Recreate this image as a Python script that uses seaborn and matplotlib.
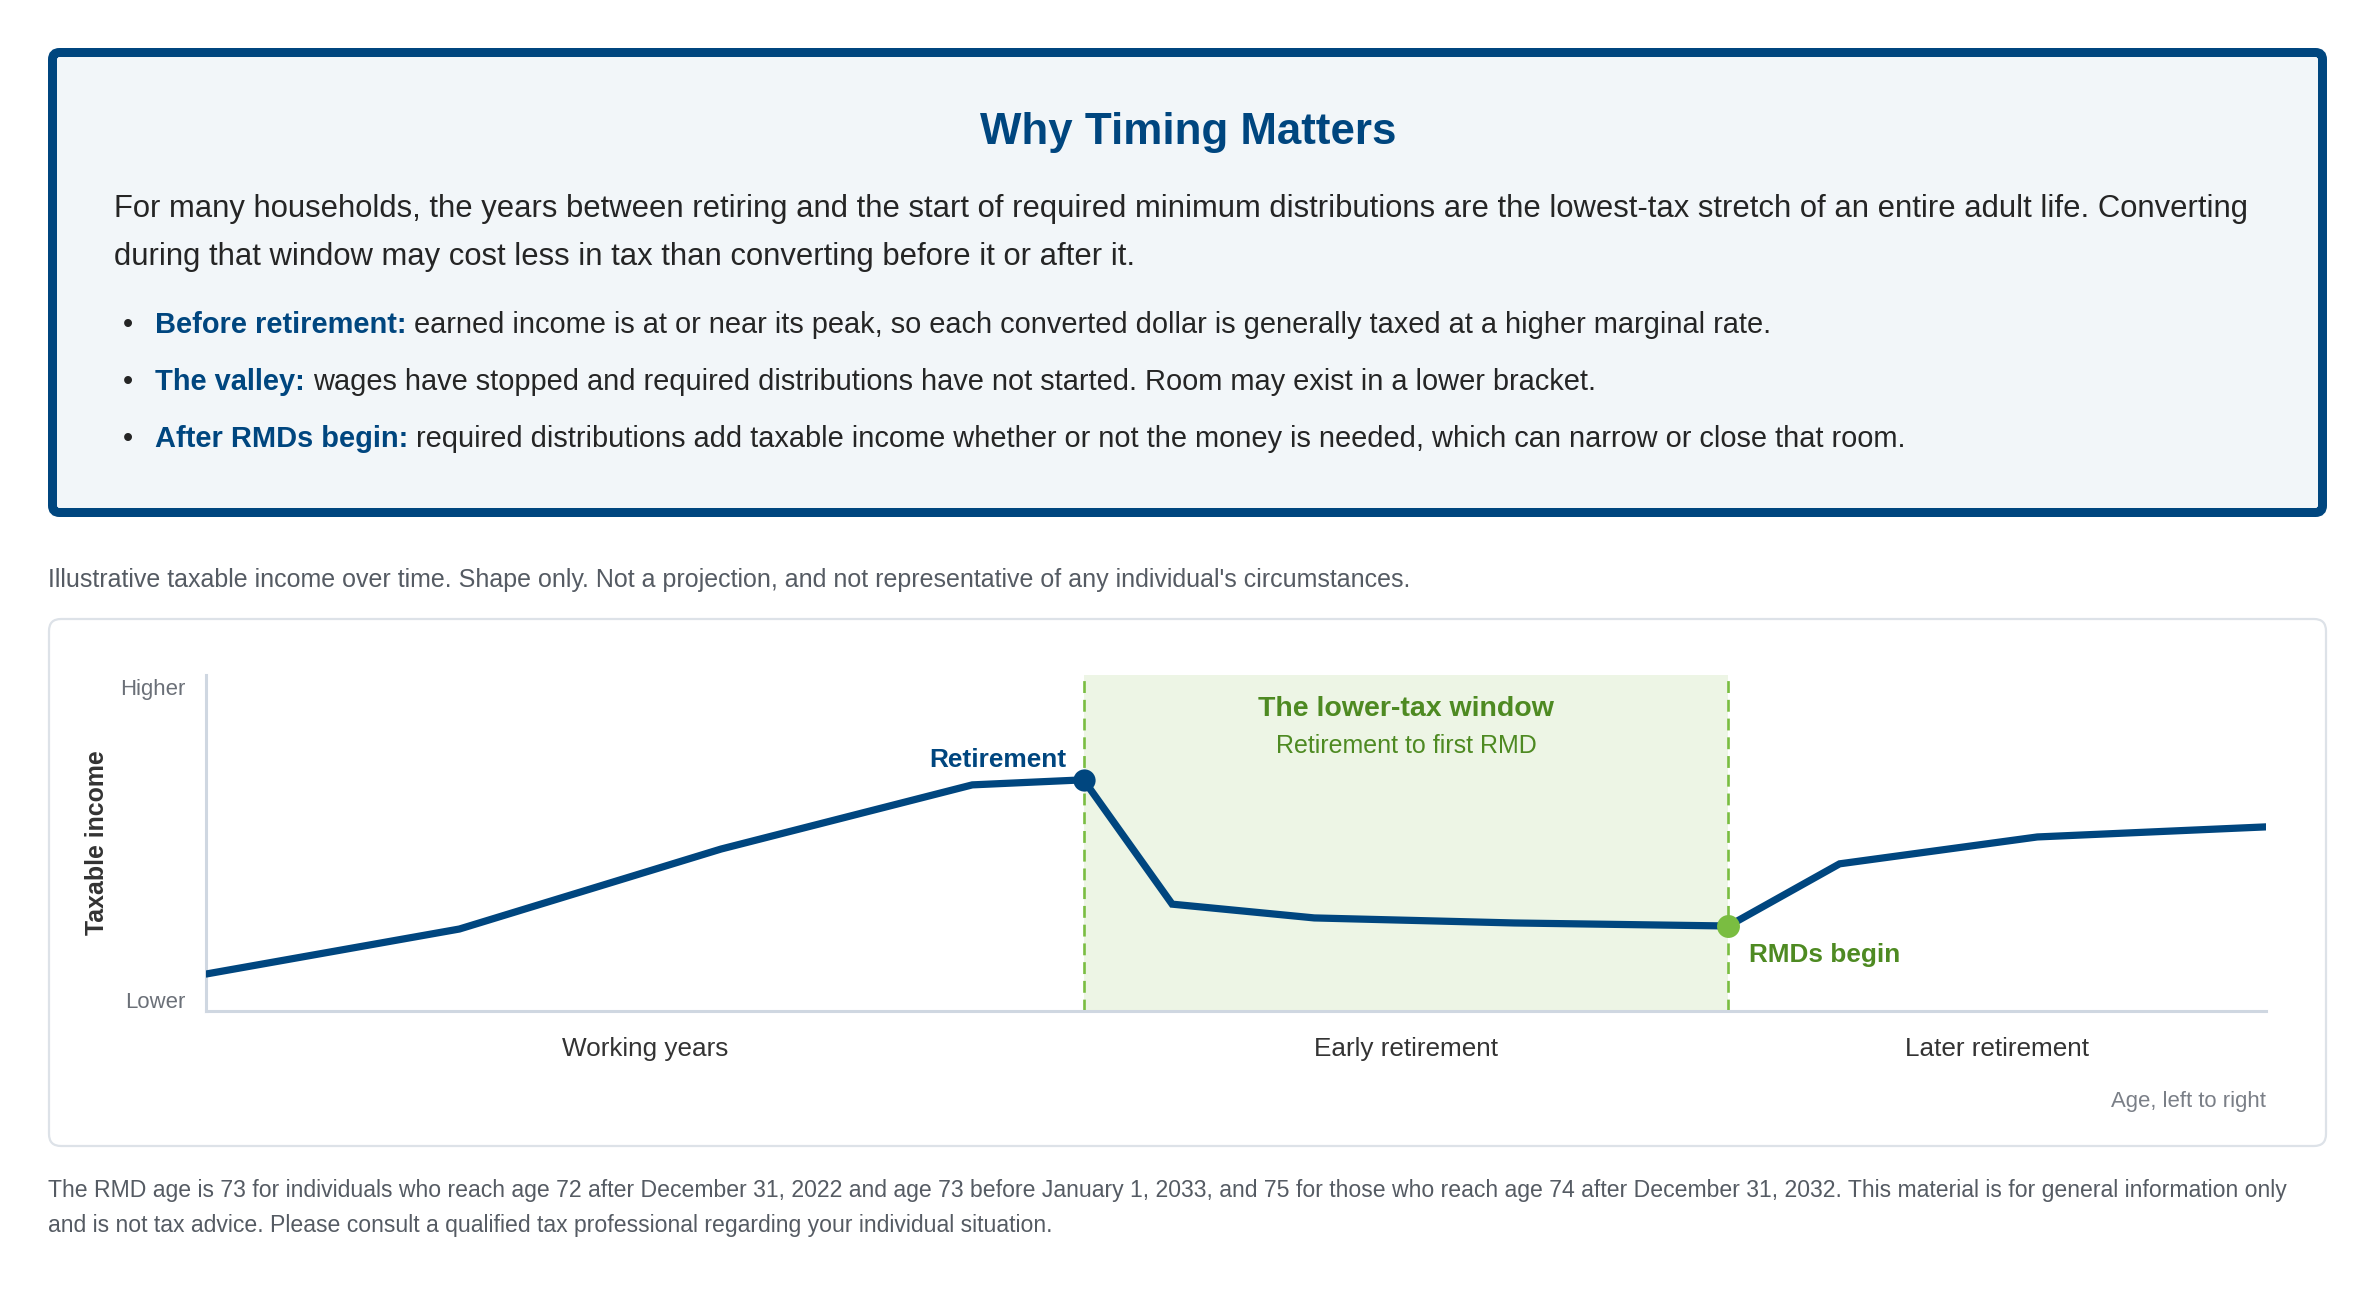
import numpy as np
import pandas as pd
import matplotlib
matplotlib.use("Agg")
import matplotlib.pyplot as plt
import matplotlib.transforms as mtransforms
from matplotlib.patches import FancyBboxPatch
import seaborn as sns

sns.set_style("white")
plt.rcParams['font.family'] = ['Liberation Sans', 'DejaVu Sans']

W, H = 2376, 1296

# illustrative shape (position along life 0-100, taxable income 0-100)
age_pos = [0, 12.3, 25.0, 37.2, 42.6, 46.9, 53.8, 63.5, 73.9, 79.3, 88.9, 100]
income = [11.0, 24.4, 48.2, 67.3, 68.8, 31.8, 27.7, 26.2, 25.3, 43.8, 51.8, 54.8]
retire_idx = 4
rmd_idx = 8
phases = ["Working years", "Early retirement", "Later retirement"]
y_labels = ["Lower", "Higher"]

title = "Why Timing Matters"
intro_lines = [
    "For many households, the years between retiring and the start of required minimum distributions are the lowest-tax stretch of an entire adult life. Converting",
    "during that window may cost less in tax than converting before it or after it.",
]
bullet_heads = ["Before retirement:", "The valley:", "After RMDs begin:"]
bullet_texts = [
    "earned income is at or near its peak, so each converted dollar is generally taxed at a higher marginal rate.",
    "wages have stopped and required distributions have not started. Room may exist in a lower bracket.",
    "required distributions add taxable income whether or not the money is needed, which can narrow or close that room.",
]
subtitle = "Illustrative taxable income over time. Shape only. Not a projection, and not representative of any individual's circumstances."
footer_lines = [
    "The RMD age is 73 for individuals who reach age 72 after December 31, 2022 and age 73 before January 1, 2033, and 75 for those who reach age 74 after December 31, 2032. This material is for general information only",
    "and is not tax advice. Please consult a qualified tax professional regarding your individual situation.",
]

navy = "#00467f"
green = "#7abd41"
green_dark = "#4e8a22"
green_fill = "#edf5e5"
dark = "#252525"
gray = "#555b63"

fig = plt.figure(figsize=(W / 100, H / 100), dpi=100)
fig.patch.set_facecolor("white")
# pixel coordinates, origin at top-left
px = mtransforms.Affine2D().scale(1 / 100, -1 / 100).translate(0, H / 100) + fig.dpi_scale_trans

# ---- top info box
box = FancyBboxPatch((52.5, 52.5), 2270, 460, boxstyle="round,pad=0,rounding_size=7",
                     lw=9 * 0.72, ec=navy, fc="#f2f6f9", transform=px, zorder=-2)
fig.add_artist(box)

fig.text(1188, 144, title, transform=px, ha="center", va="baseline",
         fontsize=31.6, fontweight="bold", color=navy)
for i, line in enumerate(intro_lines):
    fig.text(114, 217 + i * 48, line, transform=px, ha="left", va="baseline",
             fontsize=22.3, color=dark)

renderer = fig.canvas.get_renderer()
for i, (head, txt) in enumerate(zip(bullet_heads, bullet_texts)):
    yb = 333 + i * 57
    fig.text(128, yb, "\u2022", transform=px, ha="center", va="baseline", fontsize=21, color=dark)
    t = fig.text(155, yb, head, transform=px, ha="left", va="baseline",
                 fontsize=20.9, fontweight="bold", color=navy)
    w = t.get_window_extent(renderer).width
    fig.text(155 + w + 8, yb, txt, transform=px, ha="left", va="baseline",
             fontsize=20.9, color=dark)

# ---- subtitle
fig.text(48, 587, subtitle, transform=px, ha="left", va="baseline", fontsize=18, color=gray)

# ---- chart card
card = FancyBboxPatch((49, 619), 2277, 527, boxstyle="round,pad=0,rounding_size=12",
                      lw=1.6, ec="#dde2e8", fc="white", transform=px, zorder=-2)
fig.add_artist(card)

ax = fig.add_axes([206 / W, 1 - 1011 / H, 2060 / W, 336 / H])
ax.set_facecolor("none")
ax.set_zorder(5)

x_ret, x_rmd = age_pos[retire_idx], age_pos[rmd_idx]
ax.axvspan(x_ret, x_rmd, color=green_fill, lw=0, zorder=0)
for xv in (x_ret, x_rmd):
    ax.axvline(xv, color=green, lw=1.9, linestyle=(0, (4.5, 2.6)), zorder=1)

df = pd.DataFrame({"pos": age_pos, "income": income})
sns.lineplot(data=df, x="pos", y="income", ax=ax, color=navy, lw=5.2, zorder=3)
ax.lines[-1].set_solid_joinstyle("miter")
ax.scatter([x_ret], [income[retire_idx]], s=16 ** 2, color=navy, zorder=4, lw=0)
ax.scatter([x_rmd], [income[rmd_idx]], s=16.5 ** 2, color=green, zorder=4, lw=0)

ax.set_xlim(0, 100)
ax.set_ylim(0, 100)
sns.despine(ax=ax)
for side in ("left", "bottom"):
    ax.spines[side].set_color("#cfd7e1")
    ax.spines[side].set_linewidth(2.2)

phase_x = [(0 + x_ret) / 2, (x_ret + x_rmd) / 2, (x_rmd + 100) / 2]
ax.set_xticks(phase_x, phases)
ax.set_yticks([3.2, 96.4], y_labels)
ax.tick_params(axis="x", length=0, pad=19, labelsize=18.8, labelcolor="#333333")
ax.tick_params(axis="y", length=0, pad=15, labelsize=15.9, labelcolor="#6b7078")
ax.set_xlabel("")
ax.set_ylabel("")

ax.text((x_ret + x_rmd) / 2, 87.8, "The lower-tax window", ha="center", va="baseline",
        fontsize=20.5, fontweight="bold", color=green_dark)
ax.text((x_ret + x_rmd) / 2, 76.8, "Retirement to first RMD", ha="center", va="baseline",
        fontsize=18, color=green_dark)
ax.annotate("Retirement", xy=(x_ret, income[retire_idx]), xytext=(-12.5, 9),
            textcoords="offset points", ha="right", va="baseline",
            fontsize=18.9, fontweight="bold", color=navy)
ax.annotate("RMDs begin", xy=(x_rmd, income[rmd_idx]), xytext=(15, -26),
            textcoords="offset points", ha="left", va="baseline",
            fontsize=18.8, fontweight="bold", color=green_dark)

fig.text(97, 843, "Taxable income", transform=px, rotation=90, ha="center", va="center",
         fontsize=17.9, fontweight="bold", color="#333333")
fig.text(2266, 1107, "Age, left to right", transform=px, ha="right", va="baseline",
         fontsize=15.9, color="#7a7f87")

# ---- footer
for i, line in enumerate(footer_lines):
    fig.text(48, 1197 + i * 35, line, transform=px, ha="left", va="baseline",
             fontsize=16.6, color=gray)

fig.savefig("out.png", dpi=100, facecolor="white")
